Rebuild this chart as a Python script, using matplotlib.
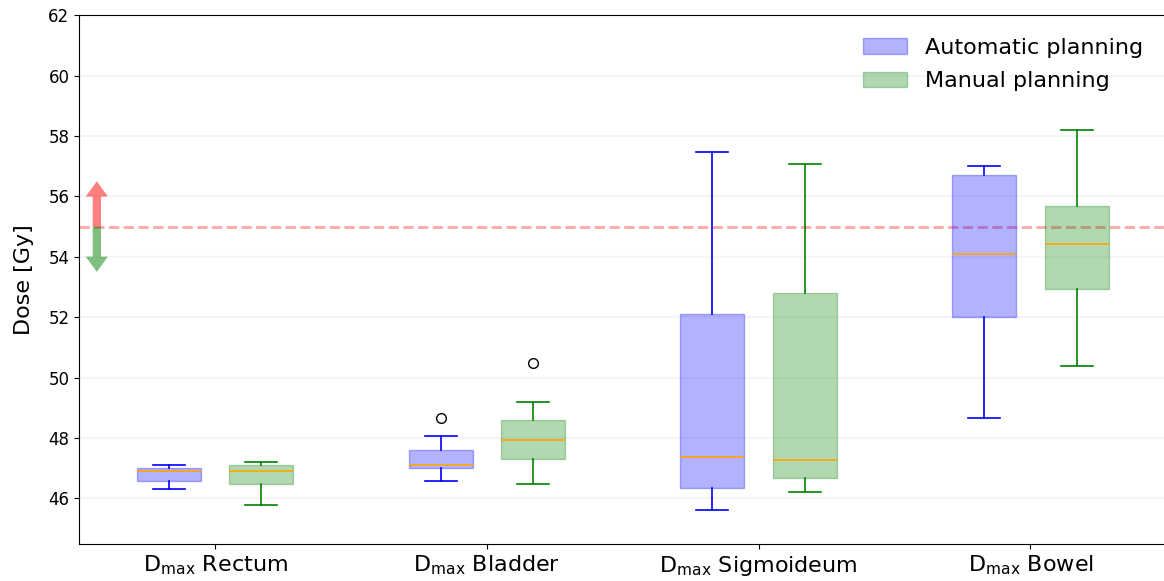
import numpy as np
import matplotlib
matplotlib.use("Agg")
import matplotlib.pyplot as plt
from matplotlib.patches import Patch

# box statistics (Gy)
organs = ["Rectum", "Bladder", "Sigmoideum", "Bowel"]

auto_whislo = [46.32, 46.57, 45.61, 48.68]
auto_q1     = [46.57, 47.00, 46.36, 52.00]
auto_med    = [46.90, 47.11, 47.39, 54.08]
auto_q3     = [47.02, 47.61, 52.10, 56.72]
auto_whishi = [47.12, 48.08, 57.46, 56.99]
auto_fliers = [[], [48.67], [], []]

man_whislo = [45.78, 46.47, 46.21, 50.38]
man_q1     = [46.47, 47.32, 46.67, 52.95]
man_med    = [46.90, 47.93, 47.28, 54.41]
man_q3     = [47.11, 48.61, 52.80, 55.69]
man_whishi = [47.22, 49.21, 57.08, 58.21]
man_fliers = [[], [50.49], [], []]

constraint = 55.0


def make_stats(lo, q1, med, q3, hi, fl):
    return [dict(whislo=a, q1=b, med=c, q3=d, whishi=e, fliers=f)
            for a, b, c, d, e, f in zip(lo, q1, med, q3, hi, fl)]


auto_stats = make_stats(auto_whislo, auto_q1, auto_med, auto_q3, auto_whishi, auto_fliers)
man_stats = make_stats(man_whislo, man_q1, man_med, man_q3, man_whishi, man_fliers)

fig = plt.figure(figsize=(11.64, 5.81), dpi=100)
ax = fig.add_axes([0.068, 0.064, 0.934, 0.910])

pos = np.arange(1, len(organs) + 1)
off = 0.17
w = 0.235


def draw(stats, positions, color):
    bp = ax.bxp(stats, positions=positions, widths=w, patch_artist=True,
                showfliers=True,
                boxprops=dict(facecolor=color, edgecolor=color, alpha=0.3),
                whiskerprops=dict(color=color, linewidth=1.2),
                capprops=dict(color=color, linewidth=1.2),
                medianprops=dict(color="orange", linewidth=1.2),
                flierprops=dict(marker="o", markerfacecolor="none",
                                markeredgecolor="black", markersize=7))
    return bp


draw(auto_stats, pos - off, "blue")
draw(man_stats, pos + off, "green")

ax.axhline(constraint, color="red", alpha=0.35, linestyle="--", linewidth=2, zorder=0)

# arrows showing the constraint direction
ax_x = 0.565
ax.annotate("", xy=(ax_x, 56.5), xytext=(ax_x, constraint),
            arrowprops=dict(facecolor="red", edgecolor="none", alpha=0.5,
                            width=6, headwidth=16, headlength=11, shrink=0))
ax.annotate("", xy=(ax_x, 53.5), xytext=(ax_x, constraint),
            arrowprops=dict(facecolor="green", edgecolor="none", alpha=0.5,
                            width=6, headwidth=16, headlength=11, shrink=0))

ax.set_xlim(0.5, 4.5)
ax.set_ylim(44.5, 62)
ax.set_yticks(np.arange(46, 63, 2))
ax.tick_params(axis="y", labelsize=12)
ax.set_xticks(pos)
ax.set_xticklabels([r"$\mathrm{D_{max}}$ " + o for o in organs], fontsize=16)
ax.set_ylabel("Dose [Gy]", fontsize=16, labelpad=10)
ax.grid(axis="y", color="#ececf4", alpha=0.5, linewidth=1.5)
ax.set_axisbelow(True)

handles = [Patch(facecolor="blue", edgecolor="blue", alpha=0.3, label="Automatic planning"),
           Patch(facecolor="green", edgecolor="green", alpha=0.3, label="Manual planning")]
ax.legend(handles=handles, loc="upper right", fontsize=16, frameon=False,
          bbox_to_anchor=(0.997, 0.995), labelspacing=0.6)

fig.savefig("out.png", dpi=100)
